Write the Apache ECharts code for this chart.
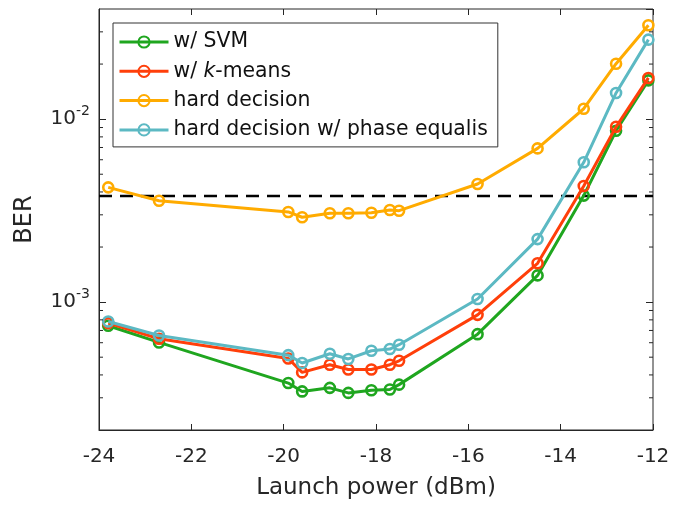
<!DOCTYPE html>
<html>
<head>
<meta charset="utf-8">
<script src="https://cdn.jsdelivr.net/npm/echarts@6/dist/echarts.min.js"></script>
<style>
  html, body { margin: 0; padding: 0; background: #fff; }
  #main { width: 685px; height: 506px; }
</style>
</head>
<body>
<div id="main"></div>
<script>
// launch power (dBm)
var launchPower = [-23.8, -22.7, -19.9, -19.6, -19.0, -18.6, -18.1, -17.7, -17.5, -15.8, -14.5, -13.5, -12.8, -12.1];
// BER per scheme
var berSVM = [7.43e-4, 6.02e-4, 3.61e-4, 3.25e-4, 3.40e-4, 3.19e-4, 3.30e-4, 3.33e-4, 3.54e-4, 6.68e-4, 1.40e-3, 3.82e-3, 8.64e-3, 1.63e-2];
var berKmeans = [7.68e-4, 6.31e-4, 4.92e-4, 4.13e-4, 4.55e-4, 4.28e-4, 4.28e-4, 4.55e-4, 4.78e-4, 8.52e-4, 1.63e-3, 4.31e-3, 9.08e-3, 1.68e-2];
var berHard = [4.24e-3, 3.58e-3, 3.11e-3, 2.91e-3, 3.06e-3, 3.06e-3, 3.08e-3, 3.19e-3, 3.16e-3, 4.42e-3, 6.92e-3, 1.14e-2, 2.01e-2, 3.26e-2];
var berPhase = [7.84e-4, 6.57e-4, 5.13e-4, 4.65e-4, 5.22e-4, 4.89e-4, 5.42e-4, 5.54e-4, 5.85e-4, 1.04e-3, 2.21e-3, 5.81e-3, 1.39e-2, 2.72e-2];
var fecLimit = 3.8e-3;

var seriesNames = ['w/ SVM', 'w/ k-means', 'hard decision', 'hard decision w/ phase equalis'];
var seriesColors = ['#1fa61f', '#ff3f0a', '#ffab00', '#5cb9c3'];

var xRange = [-24, -12];
var yRange = [2e-4, 4e-2];
var majorY = [1e-3, 1e-2];
var minorY = [3e-4, 4e-4, 5e-4, 6e-4, 7e-4, 8e-4, 9e-4,
              2e-3, 3e-3, 4e-3, 5e-3, 6e-3, 7e-3, 8e-3, 9e-3,
              2e-2, 3e-2];

var txt = '#262626';
var fontName = 'DejaVu Sans';

function pairUp(ys) {
    var out = [];
    for (var i = 0; i < launchPower.length; i++) {
        out.push([launchPower[i], ys[i]]);
    }
    return out;
}

function lineSeries(idx, ys) {
    return {
        name: seriesNames[idx],
        type: 'line',
        data: pairUp(ys),
        symbol: 'circle',
        symbolSize: 10,
        lineStyle: { color: seriesColors[idx], width: 3 },
        itemStyle: { color: 'rgba(255,255,255,0)', borderColor: seriesColors[idx], borderWidth: 2.6 },
        emphasis: { disabled: true },
        z: 3 + idx
    };
}

function powerLabel(v) {
    for (var i = 0; i < majorY.length; i++) {
        if (Math.abs(v - majorY[i]) / majorY[i] < 1e-6) {
            return '{b|10}{s|' + Math.round(Math.log10(v)) + '}';
        }
    }
    return '';
}

// minor ticks on the log axis (left and right edges)
function minorTicks(params, api) {
    var cs = params.coordSys;
    var p = api.coord([xRange[0], api.value(0)]);
    var len = 4;
    return {
        type: 'group',
        children: [
            { type: 'line', shape: { x1: cs.x, y1: p[1], x2: cs.x + len, y2: p[1] }, style: { stroke: txt, lineWidth: 1 } },
            { type: 'line', shape: { x1: cs.x + cs.width, y1: p[1], x2: cs.x + cs.width - len, y2: p[1] }, style: { stroke: txt, lineWidth: 1 } }
        ]
    };
}

var chart = echarts.init(document.getElementById('main'), null, { renderer: 'canvas' });

var option = {
    animation: false,
    backgroundColor: '#fff',
    textStyle: { fontFamily: fontName },
    grid: {
        left: 99, right: 32, top: 9, bottom: 76,
        show: true, borderColor: txt, borderWidth: 1,
        outerBoundsMode: 'none'
    },
    legend: {
        data: seriesNames,
        orient: 'vertical',
        left: 113, top: 23,
        padding: [9, 10, 7, 5],
        itemWidth: 49, itemHeight: 14, itemGap: 9.3,
        backgroundColor: '#fff',
        borderColor: '#333', borderWidth: 1,
        lineStyle: { width: 3 },
        textStyle: { fontFamily: fontName, fontSize: 20.4, lineHeight: 20, color: '#111' },
        formatter: function (name) {
            if (name === 'w/ k-means') return 'w/ {i|k}-means';
            return name;
        },
        selectedMode: false
    },
    xAxis: [{
        type: 'value', min: xRange[0], max: xRange[1], interval: 2,
        name: 'Launch power (dBm)', nameLocation: 'middle', nameGap: 47,
        nameTextStyle: { fontFamily: fontName, fontSize: 23, color: txt },
        axisLine: { lineStyle: { color: txt, width: 1 } },
        axisTick: { inside: true, length: 6, lineStyle: { color: txt } },
        axisLabel: { fontFamily: fontName, fontSize: 20, color: txt, margin: 17 },
        splitLine: { show: false }
    }, {
        type: 'value', min: xRange[0], max: xRange[1], interval: 2, position: 'top',
        axisLine: { show: false },
        axisTick: { inside: true, length: 6, lineStyle: { color: txt } },
        axisLabel: { show: false },
        splitLine: { show: false }
    }],
    yAxis: [{
        type: 'log', logBase: 10, min: yRange[0], max: yRange[1],
        name: 'BER', nameLocation: 'middle', nameGap: 62, nameRotate: 90,
        nameTextStyle: { fontFamily: fontName, fontSize: 24, color: txt },
        axisLine: { show: true, lineStyle: { color: txt, width: 1 } },
        axisTick: { inside: true, length: 7, lineStyle: { color: txt } },
        axisLabel: {
            margin: 9, color: txt, formatter: powerLabel,
            showMinLabel: false, showMaxLabel: false,
            rich: {
                b: { fontFamily: fontName, fontSize: 20, color: txt },
                s: { fontFamily: fontName, fontSize: 14, color: txt, padding: [0, 0, 16, 0] }
            }
        },
        splitLine: { show: false },
        minorTick: { show: false }
    }, {
        type: 'log', logBase: 10, min: yRange[0], max: yRange[1], position: 'right',
        axisLine: { show: false },
        axisTick: { inside: true, length: 7, lineStyle: { color: txt } },
        axisLabel: { show: false },
        splitLine: { show: false }
    }],
    series: [
        {
            name: 'FEC',
            type: 'line',
            data: [[xRange[0], fecLimit], [xRange[1], fecLimit]],
            symbol: 'none',
            lineStyle: { color: '#000', width: 2.5, type: [13, 8] },
            emphasis: { disabled: true },
            z: 2
        },
        lineSeries(0, berSVM),
        lineSeries(1, berKmeans),
        lineSeries(2, berHard),
        lineSeries(3, berPhase),
        {
            name: 'minorTicks',
            type: 'custom',
            data: minorY.map(function (v) { return [v]; }),
            renderItem: minorTicks,
            silent: true,
            z: 10
        }
    ]
};

option.legend.textStyle.rich = {
    i: { fontFamily: fontName, fontSize: 20.4, fontStyle: 'italic', color: '#111' }
};

chart.setOption(option);
</script>
</body>
</html>
